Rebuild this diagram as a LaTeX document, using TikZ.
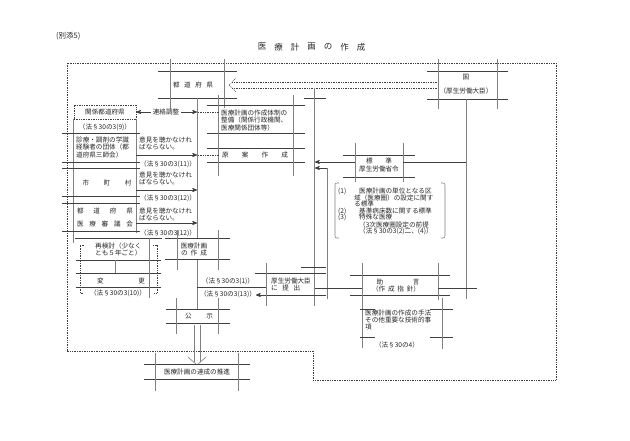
\documentclass[tikz,border=0pt]{standalone}
\usepackage{fontspec}
\setmainfont{Noto Sans CJK JP}
\usetikzlibrary{arrows}

\tikzset{
 txt/.style={font=\fontsize{6.6}{7.4}\selectfont, text=black!85, inner sep=0pt},
 hl/.style={black!75, line width=.7pt},
 vl/.style={black!50, line width=.6pt},
 dots/.style={black!75, line width=.7pt, densely dotted},
}

\begin{document}
\begin{tikzpicture}[x=1pt, y=-1pt, >=stealth']
\useasboundingbox (0,0) rectangle (630,441);

% title
\node[txt, font=\fontsize{7.5}{8}\selectfont, anchor=west] (bettenLbl) at (56,36) {(別添5)};
\foreach \c [count=\i] in {医,療,計,画,の,作,成}
 \node[txt, font=\fontsize{8.5}{9}\selectfont] (t\i) at ({262+16.5*(\i-1)},47) {\c};

% outer dotted frame
\draw[dots] (67,351) -- (67,63) -- (556,63) -- (556,380) -- (313,380) -- (313,351) -- cycle;

% kuni
\draw[hl] (427,71) -- (508,71) (427,99) -- (508,99);
\draw[vl] (438,59) -- (438,109) (497,59) -- (497,109);
\node[txt] (kuni) at (466,77) {国};
\node[txt] (kuniSub) at (466,91) {（厚生労働大臣）};
\draw[vl] (466,99) -- (466,299);

% todofuken
\draw[hl] (158,71) -- (237,71) (158,98) -- (237,98);
\draw[vl] (170,59) -- (170,109) (224,59) -- (224,108);
\node[txt, text width=40pt] (todofuken) at (193,85) {都\hfill 道\hfill 府\hfill 県};

% kuni -> todofuken
\draw[dots] (437,82) -- (232,82) (437,88) -- (232,88);
\draw[dots] (236,78) -- (229,85) -- (236,92);
\draw[hl] (304,98) -- (326,98);
\draw[vl] (314,88) -- (314,306);

% taisei / genan
\draw[hl] (207,105) -- (305,105) (207,133) -- (305,133) (207,148) -- (305,148) (207,162) -- (305,162);
\draw[vl] (218,95) -- (218,176) (293,95) -- (293,176);
\node[txt, anchor=west, align=left, font=\fontsize{6.6}{7.6}\selectfont] (taisei) at (221,120.5) {医療計画の作成体制の\\整備（関係行政機関、\\医療関係団体等）};
\node[txt, text width=66pt] (genan) at (255,155) {原\hfill 案\hfill 作\hfill 成};

% kankei / renraku
\node[dots, draw, minimum width=62pt, minimum height=14pt, txt] (kankei) at (105,112) {関係都道府県};
\node[txt] (renraku) at (166,112) {連絡調整};
\draw[hl,->] ([xshift=-2pt]renraku.west) -- (kankei.east);
\draw[hl,->] ([xshift=2pt]renraku.east) -- (197,112);
\draw[dots] (198,112) -- (219,112);
\node[txt] (law9) at (105,127) {（法§30の3(9)）};

% left column
\draw[vl] (73,119) -- (73,243) (136,119) -- (136,233);
\foreach \y in {133,162,168,196,203,231}
 \draw[hl] (62,\y) -- (140,\y);

\node[txt, anchor=west, align=left, font=\fontsize{6.6}{7.5}\selectfont] (shinryo) at (76,147.5) {診療・調剤の学識\\経験者の団体（都\\道府県三師会）};
\node[txt, anchor=west, align=left] (iken1) at (139,143.5) {意見を聴かなけれ\\ばならない。};
\draw[hl,->] (136,155) -- (197,155);
\draw[dots] (198,155) -- (219,155);
\node[txt, anchor=west] (law11) at (140,164) {（法§30の3(11)）};

\node[txt, text width=49pt] (shichoson) at (107,183) {市\hfill 町\hfill 村};
\node[txt, anchor=west, align=left] (iken2) at (139,178.5) {意見を聴かなけれ\\ばならない。};
\draw[hl,->] (136,190) -- (197,190);
\node[txt, anchor=west] (law12a) at (140,198) {（法§30の3(12)）};

\node[txt, text width=56pt] (todofukenB) at (105,211) {都\hfill 道\hfill 府\hfill 県};
\node[txt, text width=56pt] (shingikai) at (105,224) {医\hfill 療\hfill 審\hfill 議\hfill 会};
\node[txt, anchor=west, align=left] (iken3) at (139,214.5) {意見を聴かなけれ\\ばならない。};
\draw[hl,->] (136,223) -- (197,223);
\node[txt, anchor=west] (law12b) at (140,233) {（法§30の3(12)）};

% trunk
\draw[vl] (197,98) -- (197,238) (197,259) -- (197,309);

% saikento / henko
\draw[hl] (75,238) -- (162,238) (76,260) -- (161,260) (76,273) -- (161,273) (76,287) -- (161,287);
\draw[vl] (149,238) -- (149,298) (115,260) -- (115,273);
\draw[dots] (84,245) -- (80,245) -- (80,293) -- (84,293);
\draw[dots] (153,245) -- (157,245) -- (157,293) -- (153,293);
\node[txt, anchor=west, align=left] (saikento) at (95,249.5) {再検討（少なく\\とも５年ごと）};
\node[txt, text width=48pt] (henko) at (121,281) {変\hfill 更};
\node[txt] (law10) at (118,293) {（法§30の3(10)）};

% sakusei
\draw[hl] (165,238) -- (230,238) (165,259) -- (230,259);
\draw[vl] (177,230) -- (177,270) (218,230) -- (218,270);
\node[txt] (sakusei) at (194,246) {医療計画};
\node[txt, text width=26pt] (sakuseiB) at (194,253) {の\hfill 作\hfill 成};

% teishutsu
\draw[hl] (197,287) -- (266,287);
\node[txt] (law1) at (228,281) {（法§30の3(1)）};
\node[txt] (law13) at (228,294) {（法§30の3(13)）};
\draw[hl,->] (326,295) -- (256,295);
\draw[hl] (255,273) -- (326,273) (301,267) -- (326,267);
\draw[vl] (266,263) -- (266,306) (327,168) -- (327,299);
\node[txt, anchor=west] (teishutsu) at (271,281) {厚生労働大臣};
\node[txt, anchor=west, text width=29pt] (teishutsuB) at (271,288) {に\hfill 提\hfill 出};

% arrows into the branch
\draw[hl,->] (355,162) -- (315,162);
\draw[hl,->] (327,168) -- (315,168);

% hyojun
\draw[hl] (343,155) -- (415,155) (343,177) -- (415,177);
\draw[vl] (355,143) -- (355,182) (403,143) -- (403,182);
\node[txt, text width=26pt] (hyojun) at (379,161) {標\hfill 準};
\node[txt] (hyojunSub) at (379,169) {厚生労働省令};
\draw[hl] (403,162) -- (466,162);

% list of standards
\draw[vl] (339,183) .. controls (335,183) .. (335,187) -- (335,234) .. controls (335,238) .. (339,238);
\draw[vl] (441,183) .. controls (445,183) .. (445,187) -- (445,234) .. controls (445,238) .. (441,238);
\foreach \x/\y/\t [count=\i] in {338/191/(1), 359/191/医療計画の単位となる区,
  354/197.5/域（医療圏）の設定に関す, 354/204/る標準,
  338/211/(2), 359/211/基準病床数に関する標準,
  338/217.5/(3), 359/217.5/特殊な医療,
  359/224.5/（3次医療圏設定の前提, 359/231.5/{（法§30の3(2)二、(4)）}}
 \node[txt, anchor=west] (std\i) at (\x,\y) {\t};

% jogen
\draw[hl] (350,275) -- (450,275) (350,295) -- (450,295);
\draw[vl] (362,263) -- (362,348) (438,263) -- (438,300);
\draw[hl] (315,288) -- (362,288) (438,288) -- (477,288);
\node[txt, text width=43pt] (jogen) at (398,282) {助\hfill 言};
\node[txt, text width=48pt] (jogenSub) at (396,289) {（作\hfill 成\hfill 指\hfill 針）};

% shuho
\draw[hl] (360,309) -- (375,309) (430,309) -- (453,309) (360,337) -- (375,337) (430,337) -- (453,337);
\draw[vl] (442,298) -- (442,349);
\node[txt, anchor=west, align=left] (shuho) at (365,320) {医療計画の作成の手法\\その他重要な技術的事\\項};
\node[txt] (law4) at (397,345) {（法§30の4）};

% koji
\draw[hl] (166,309) -- (230,309) (166,323) -- (230,323);
\draw[vl] (176,298) -- (176,334) (218,298) -- (218,334);
\node[txt, text width=28pt] (koji) at (199,316) {公\hfill 示};

% suishin
\draw[vl] (194,325) -- (194,362) (200,325) -- (200,362);
\draw[vl] (188,357) -- (197,365) -- (206,357);
\draw[hl] (144,364) -- (250,364) (144,379) -- (250,379);
\draw[vl] (155,353) -- (155,391) (238,353) -- (238,391);
\node[txt] (suishin) at (197,372) {医療計画の達成の推進};
\end{tikzpicture}
\end{document}
